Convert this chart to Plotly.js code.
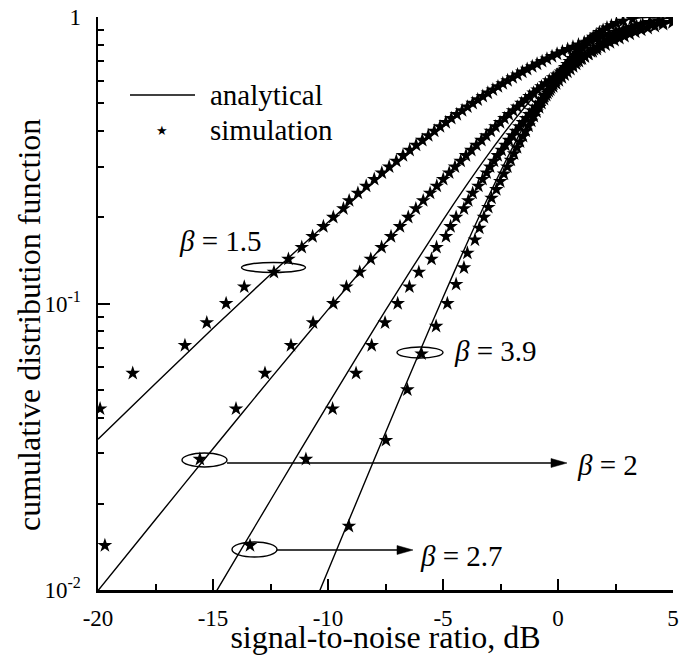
<!DOCTYPE html>
<html>
<head>
<meta charset="utf-8">
<script src="https://cdn.plot.ly/plotly-3.0.1.min.js"></script>
<style>html,body{margin:0;padding:0;background:#fff;}#chart{width:693px;height:655px;}</style>
</head>
<body>
<div id="chart"></div>
<script>
// ---- analytical curves (x in dB, y = CDF) ----
const anaX15 = [-20,-17.5,-15,-12.5,-10,-7.5,-5,-4,-3,-2,-1,0,1,2,3,4,5];
const anaY15 = [0.0336,0.0526,0.0819,0.1263,0.1921,0.2862,0.4130,0.4726,0.5361,0.6025,0.6697,0.7355,0.7976,0.853,0.900,0.937,0.964];
const anaX2  = [-20,-17.5,-15,-12.5,-10,-7.5,-5,-4,-3,-2,-1,0,1,2,3,4,5];
const anaY2  = [0.00995,0.01762,0.03113,0.05468,0.09516,0.1629,0.2711,0.3284,0.3942,0.4679,0.5481,0.6321,0.716,0.795,0.864,0.919,0.958];
const anaX27 = [-15,-14,-12.5,-10,-7.5,-5,-4,-3,-2,-1,0,1,2,3,4,5];
const anaY27 = [0.00946,0.01291,0.02057,0.04445,0.0947,0.1955,0.2574,0.3344,0.4269,0.5330,0.6471,0.7595,0.8575,0.9304,0.9739,0.9932];
const anaX39 = [-10.5,-10,-9,-8,-7,-6,-5,-4,-3,-2,-1,0,1,2,3,4,5];
const anaY39 = [0.00934,0.01167,0.01822,0.02841,0.04415,0.0683,0.1050,0.1595,0.2382,0.3471,0.4872,0.6488,0.806,0.9234,0.9821,0.9982,0.99995];

// ---- simulation (empirical CDF levels) ----
const simF70 = [0.0143,0.0286,0.0429,0.0571,0.0714,0.0857,0.1,0.1143,0.1286,0.1429,0.1571,0.1714,0.1857,0.2,0.2143,0.2286,0.2429,0.2571,0.2714,0.2857,0.3,0.3143,0.3286,0.3429,0.3571,0.3714,0.3857,0.4,0.4143,0.4286,0.4429,0.4571,0.4714,0.4857,0.5,0.5143,0.5286,0.5429,0.5571,0.5714,0.5857,0.6,0.6143,0.6286,0.6429,0.6571,0.6714,0.6857,0.7,0.7143,0.7286,0.7429,0.7571,0.7714,0.7857,0.8,0.8143,0.8286,0.8429,0.8571,0.8714,0.8857,0.9,0.9143,0.9286,0.9429,0.9571,0.9714,0.9857];
const simF60 = [0.0167,0.0333,0.05,0.0667,0.0833,0.1,0.1167,0.1333,0.15,0.1667,0.1833,0.2,0.2167,0.2333,0.25,0.2667,0.2833,0.3,0.3167,0.3333,0.35,0.3667,0.3833,0.4,0.4167,0.4333,0.45,0.4667,0.4833,0.5,0.5167,0.5333,0.55,0.5667,0.5833,0.6,0.6167,0.6333,0.65,0.6667,0.6833,0.7,0.7167,0.7333,0.75,0.7667,0.7833,0.8,0.8167,0.8333,0.85,0.8667,0.8833,0.9,0.9167,0.9333,0.95,0.9667,0.9833];
// beta = 1.5 : levels 3..67 of simF70
const simX15 = [-19.91,-18.49,-16.22,-15.27,-14.43,-13.64,-12.35,-11.72,-11.14,-10.67,-10.2,-9.77,-9.33,-9.08,-8.70,-8.34,-7.99,-7.66,-7.34,-7.03,-6.74,-6.45,-6.17,-5.90,-5.64,-5.38,-5.13,-4.88,-4.64,-4.40,-4.17,-3.94,-3.71,-3.49,-3.27,-3.05,-2.83,-2.61,-2.40,-2.19,-1.97,-1.76,-1.55,-1.34,-1.12,-0.91,-0.69,-0.48,-0.26,-0.04,0.19,0.42,0.65,0.89,1.14,1.39,1.65,1.93,2.22,2.52,2.85,3.20,3.59,4.04,4.56];
// beta = 2 : levels 1..67 of simF70
const simX2 = [-19.70,-15.57,-14.0,-12.74,-11.61,-10.65,-9.77,-9.20,-8.62,-8.14,-7.67,-7.26,-6.87,-6.51,-6.18,-5.86,-5.56,-5.27,-4.99,-4.73,-4.48,-4.23,-4.00,-3.77,-3.55,-3.33,-3.12,-2.92,-2.72,-2.52,-2.33,-2.14,-1.95,-1.77,-1.59,-1.41,-1.24,-1.06,-0.89,-0.72,-0.55,-0.38,-0.21,-0.04,0.13,0.30,0.47,0.64,0.81,0.98,1.15,1.33,1.51,1.69,1.88,2.07,2.26,2.46,2.67,2.89,3.12,3.36,3.62,3.90,4.21,4.57,4.98];
// beta = 2.7 : levels 1..69 of simF70
const simX27 = [-13.39,-10.96,-9.80,-8.78,-8.10,-7.52,-6.97,-6.46,-6.05,-5.50,-5.28,-4.87,-4.67,-4.43,-4.09,-3.90,-3.71,-3.46,-3.28,-3.10,-2.95,-2.78,-2.62,-2.45,-2.29,-2.13,-1.98,-1.83,-1.68,-1.53,-1.39,-1.25,-1.12,-0.98,-0.85,-0.72,-0.59,-0.46,-0.34,-0.21,-0.08,0.04,0.17,0.29,0.41,0.54,0.66,0.79,0.91,1.04,1.17,1.30,1.43,1.56,1.70,1.84,1.98,2.13,2.29,2.45,2.61,2.79,2.98,3.19,3.42,3.68,3.98,4.37,4.94];
// beta = 3.9 : levels 1..59 of simF60
const simX39 = [-9.09,-7.48,-6.55,-5.93,-5.30,-4.81,-4.43,-4.09,-3.94,-3.61,-3.42,-3.22,-3.03,-2.89,-2.68,-2.51,-2.35,-2.20,-2.05,-1.91,-1.78,-1.65,-1.52,-1.40,-1.28,-1.16,-1.05,-0.93,-0.82,-0.72,-0.61,-0.51,-0.40,-0.30,-0.20,-0.09,0.01,0.11,0.21,0.31,0.41,0.51,0.62,0.72,0.83,0.94,1.05,1.16,1.28,1.40,1.53,1.66,1.80,1.96,2.13,2.32,2.54,2.83,3.24];

const xTicks = [-20,-15,-10,-5,0,5];
const xTickText = ['-20','-15','-10','-5','0','5'];
const yTicks = [0.01,0.1,1];
const yTickText = ['10<sup>-2</sup>','10<sup>-1</sup>','1'];
const yMinor = [0.02,0.03,0.04,0.05,0.06,0.07,0.08,0.09,0.2,0.3,0.4,0.5,0.6,0.7,0.8,0.9];

const FONT = 'Liberation Serif';
const lineStyle = {color:'#000', width:1.4, shape:'spline', smoothing:0.8};
const starStyle = {symbol:'star', size:11, color:'#000', line:{width:0}};

function ana(x,y){return {x:x,y:y,type:'scatter',mode:'lines',line:lineStyle,name:'analytical',showlegend:false,hoverinfo:'skip'};}
function sim(x,y){return {x:x,y:y,type:'scatter',mode:'markers',marker:starStyle,name:'simulation',showlegend:false,hoverinfo:'skip',cliponaxis:true};}

const traces = [
  ana(anaX15,anaY15), ana(anaX2,anaY2), ana(anaX27,anaY27), ana(anaX39,anaY39),
  sim(simX15, simF70.slice(2, 2+simX15.length)),
  sim(simX2,  simF70.slice(0, simX2.length)),
  sim(simX27, simF70.slice(0, simX27.length)),
  sim(simX39, simF60.slice(0, simX39.length))
];

// paper coordinates of the plot area (l=98, t=17, w=575, h=573)
const px = v => (v-98)/575;
const py = v => (590-v)/573;

const ell = (x0,x1,y0,y1) => ({type:'circle',xref:'paper',yref:'paper',x0:px(x0),x1:px(x1),y0:py(y1),y1:py(y0),line:{color:'#000',width:1.4}});
const txt = (t,x,y,size,anchor) => ({text:t,xref:'paper',yref:'paper',x:px(x),y:py(y),xanchor:anchor||'left',yanchor:'middle',showarrow:false,font:{family:FONT,size:size,color:'#000'}});
const hline = (x0,x1,y,w) => ({type:'line',xref:'paper',yref:'paper',x0:px(x0),x1:px(x1),y0:py(y),y1:py(y),line:{color:'#000',width:w}});
const head = (x,y) => ({type:'path',xref:'paper',yref:'paper',
  path:'M'+px(x)+','+py(y)+' L'+px(x-16)+','+py(y-4.5)+' L'+px(x-16)+','+py(y+4.5)+' Z',
  fillcolor:'#000',line:{color:'#000',width:0.5}});

const layout = {
  width:693, height:655,
  margin:{l:98,r:20,t:17,b:65},
  paper_bgcolor:'#fff', plot_bgcolor:'#fff',
  font:{family:FONT,color:'#000',size:23},
  showlegend:false,
  xaxis:{range:[-20,5],tickmode:'array',tickvals:xTicks,ticktext:xTickText,ticks:'inside',ticklen:11,tickwidth:2,tickcolor:'#000',
         showline:true,linewidth:2.5,linecolor:'#000',mirror:false,showgrid:false,zeroline:false,
         tickfont:{family:FONT,size:23,color:'#000'},ticklabelstandoff:6,
         minor:{dtick:2.5,tick0:0,ticks:'inside',ticklen:6,tickwidth:2,tickcolor:'#000',showgrid:false},
         title:{text:'signal-to-noise ratio, dB',font:{family:FONT,size:32,color:'#000'},standoff:7}},
  yaxis:{type:'log',range:[-2,0],tickmode:'array',tickvals:yTicks,ticktext:yTickText,ticks:'inside',ticklen:12,tickwidth:2,tickcolor:'#000',
         showline:true,linewidth:2.5,linecolor:'#000',mirror:false,showgrid:false,zeroline:false,
         tickfont:{family:FONT,size:23,color:'#000'},ticklabelstandoff:10,
         minor:{tickmode:'array',tickvals:yMinor,ticks:'inside',ticklen:6,tickwidth:2,tickcolor:'#000',showgrid:false}},
  shapes:[
    ell(241.5,305.5,262.5,272.5), ell(397,443,347,358), ell(182,227,453,467), ell(232,277,542,557),
    hline(227,553,463,1.3), head(567,463),
    hline(277,399,550,1.3), head(413,550),
    hline(130,195,95,1.4)
  ],
  annotations:[
    txt('<i>β</i> = 1.5',177,241,29), txt('<i>β</i> = 3.9',452,351,29), txt('<i>β</i> = 2',575,465,29), txt('<i>β</i> = 2.7',418,556,29),
    txt('analytical',208,95,29), txt('simulation',208,130,29),
    {text:'★',xref:'paper',yref:'paper',x:px(162),y:py(130),xanchor:'center',yanchor:'middle',showarrow:false,font:{family:'DejaVu Sans',size:13,color:'#000'}},
    {text:'cumulative distribution function',xref:'paper',yref:'paper',x:px(29),y:py(325),xanchor:'center',yanchor:'middle',textangle:-90,showarrow:false,font:{family:FONT,size:32,color:'#000'}}
  ]
};

Plotly.newPlot('chart', traces, layout, {displayModeBar:false, staticPlot:true});
</script>
</body>
</html>
